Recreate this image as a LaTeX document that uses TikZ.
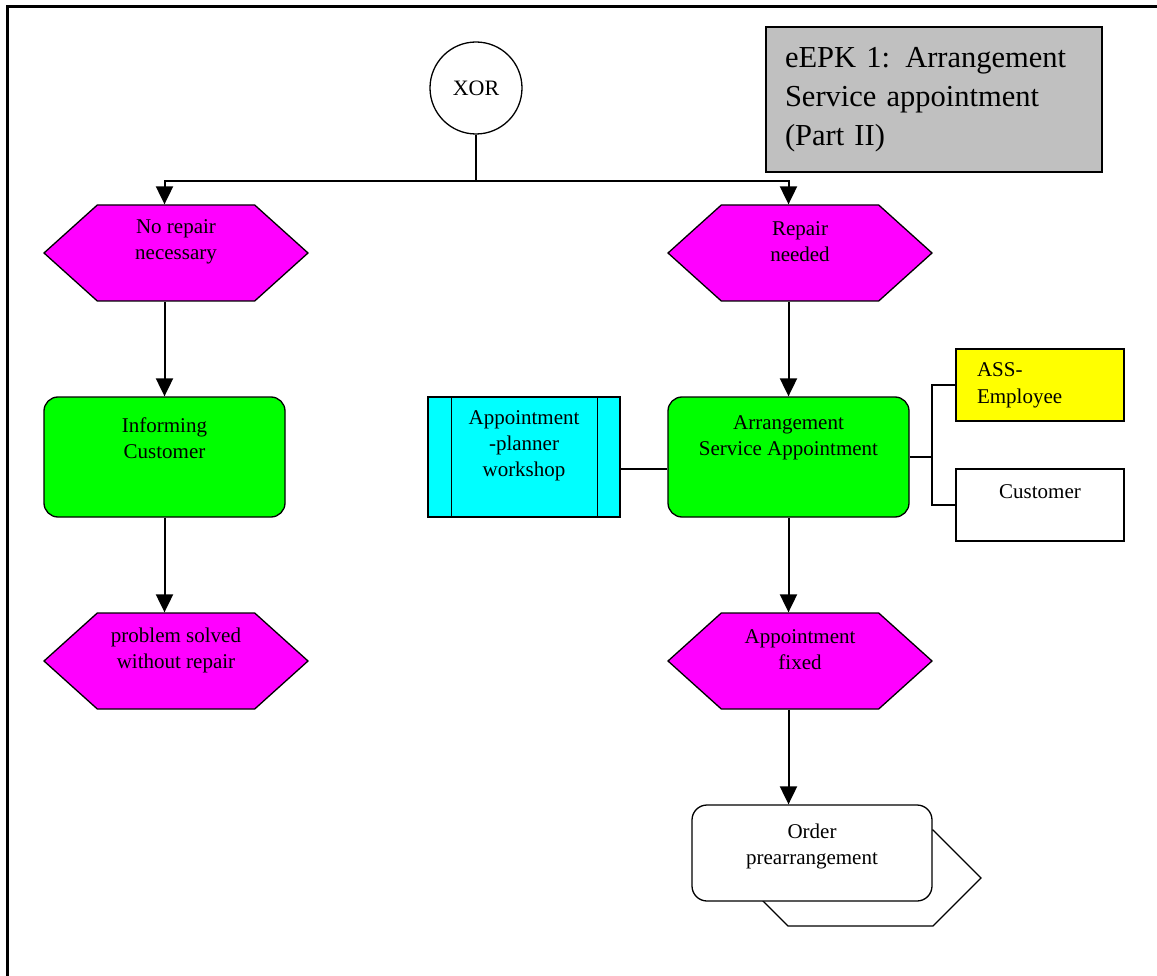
\documentclass[tikz,border=0pt]{standalone}
\usepackage{fontspec}
\setmainfont{Liberation Serif}
\usepackage{xcolor}
\usetikzlibrary{arrows.meta,shapes.symbols,calc}
\definecolor{epkEvent}{RGB}{255,0,255}
\definecolor{epkFunc}{RGB}{0,255,0}
\definecolor{epkSys}{RGB}{0,255,255}
\definecolor{epkOrg}{RGB}{255,255,0}
\definecolor{epkTitle}{RGB}{192,192,192}
\tikzset{
  % text set inside the shapes
  txt/.style={
    font=\fontsize{21}{26}\selectfont,
    align=center,
    inner sep=0pt
  },
  titlebox/.style={
    rectangle,
    fill=epkTitle,
    draw=black,
    line width=1.3pt,
    minimum width=336pt,
    minimum height=145pt,
    text width=298pt,
    inner xsep=19pt,
    align=left,
    font=\fontsize{30.5}{39}\selectfont
  },
  eventbox/.style={
    signal,
    signal to=west and east,
    signal pointer angle=84,
    fill=epkEvent,
    draw=black,
    line width=1.3pt,
    minimum width=264pt,
    minimum height=96pt,
    inner sep=0pt,
    label={[txt,yshift=11pt]center:#1}
  },
  funcbox/.style={
    rectangle,
    rounded corners=14pt,
    fill=epkFunc,
    draw=black,
    line width=1.3pt,
    minimum width=241pt,
    minimum height=120pt,
    inner sep=0pt,
    label={[txt,yshift=19pt]center:#1}
  },
  sysbox/.style={
    rectangle,
    fill=epkSys,
    draw=black,
    line width=1.3pt,
    minimum width=192pt,
    minimum height=120pt,
    inner sep=0pt,
    label={[txt,yshift=11pt]center:#1}
  },
  orgbox/.style={
    rectangle,
    draw=black,
    line width=1.3pt,
    minimum width=168pt,
    minimum height=72pt,
    inner sep=0pt
  },
  connector/.style={
    line width=2pt,
    draw=black
  },
  arrow/.style={
    connector,
    -{Triangle[length=18pt,width=17pt]}
  }
}

\begin{document}
\begin{tikzpicture}[x=1pt,y=-1pt]
\useasboundingbox (0,0) rectangle (1157,976);

% frame
\draw[line width=3pt] (7,976) -- (7,7) -- (1157,7);

\node[titlebox] (title) at (934,99.5)
{eEPK 1: Arrangement\\Service appointment\\(Part II)};

\node[circle, draw=black, line width=1.3pt, fill=white, minimum size=92pt, inner sep=0pt,
      font=\fontsize{22}{26}\selectfont] (xor) at (476,88) {XOR};
\coordinate (split) at (476,181);

% left branch
\node[eventbox={No repair\\necessary}] (norep) at (176,253) {};
\node[funcbox={Informing\\Customer}] (inform) at (164.5,457) {};
\node[eventbox={problem solved\\without repair}] (solved) at (176,661) {};

% right branch
\node[eventbox={Repair\\needed}] (repair) at (800,253) {};
\node[funcbox={Arrangement\\Service Appointment}] (arrange) at (788.5,457) {};
\node[sysbox={Appointment\\-planner\\workshop}] (planner) at (524,457) {};
\node[orgbox, fill=epkOrg, text width=126pt, inner xsep=21pt, align=left,
      font=\fontsize{21}{27}\selectfont] (assemp) at (1040,385) {ASS-\\Employee};
\node[orgbox, fill=white, label={[txt,yshift=13pt]center:Customer}] (cust) at (1040,505) {};
\coordinate (orgbus) at (932,457);
\node[eventbox={Appointment\\fixed}] (fixed) at (800,661) {};

% process interface
\node[signal, signal to=west and east, signal pointer angle=90, fill=white, draw=black, line width=1.3pt,
      minimum width=241pt, minimum height=96pt, inner sep=0pt] (ordertab) at (860.5,878) {};
\node[rectangle, rounded corners=15pt, fill=white, draw=black, line width=1.3pt,
      minimum width=240pt, minimum height=96pt, inner sep=0pt,
      label={[txt,yshift=7pt]center:Order\\prearrangement}] (order) at (812,853) {};

% system lines
\draw[line width=1.3pt] ([xshift=24pt]planner.north west) -- ([xshift=24pt]planner.south west);
\draw[line width=1.3pt] ([xshift=-23pt]planner.north east) -- ([xshift=-23pt]planner.south east);

% control flow
\draw[connector] (xor) -- (split);
\draw[arrow] (split) -| (norep.north -| inform.north);
\draw[arrow] (split) -| (repair.north -| arrange.north);
\draw[arrow] (norep.south -| inform.north) -- (inform.north);
\draw[arrow] (inform.south) -- (solved.north -| inform.south);
\draw[arrow] (repair.south -| arrange.north) -- (arrange.north);
\draw[arrow] (arrange.south) -- (fixed.north -| arrange.south);
\draw[arrow] (fixed.south -| arrange.south) -- (order.north -| arrange.south);

% assignments
\draw[connector] ([yshift=-12pt]planner.east) -- ([yshift=-12pt]arrange.west);
\draw[connector] (arrange.east) -- (orgbus);
\draw[connector] (orgbus) |- (assemp.west);
\draw[connector] (orgbus) |- (cust.west);

\end{tikzpicture}
\end{document}
